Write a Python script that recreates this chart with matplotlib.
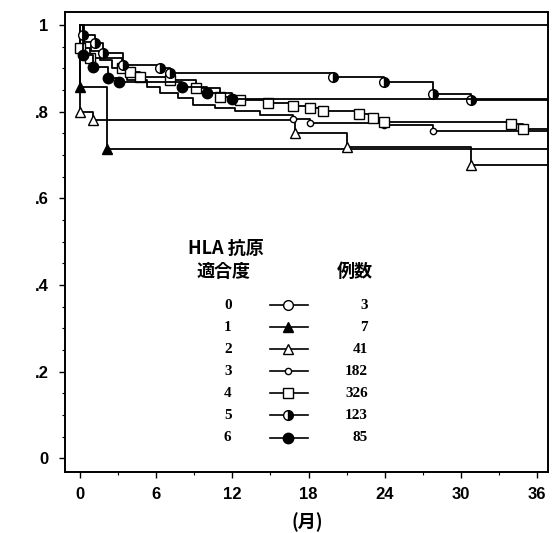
import matplotlib
matplotlib.use("Agg")
import matplotlib.pyplot as plt
from matplotlib.ticker import MultipleLocator

plt.rcParams['font.family'] = ['Noto Sans CJK JP', 'DejaVu Sans']

# HLA 抗原適合度ごとの生存率（月）
grades = ['0', '1', '2', '3', '4', '5', '6']
counts = ['3', '7', '41', '182', '326', '123', '85']

t0 = [0, 37]
s0 = [1.0, 1.0]

t1 = [0, 0, 2.1, 37]
s1 = [1.0, 0.857, 0.714, 0.714]

t2 = [0, 0, 1.0, 16.9, 21.0, 30.8, 37]
s2 = [1.0, 0.80, 0.78, 0.75, 0.718, 0.677, 0.677]

t3 = [0, 0.3, 0.9, 1.6, 2.5, 3.7, 5.3, 6.3, 7.7, 8.9, 10.6, 12.2, 14.2, 16.8, 18.1, 23.9, 27.8, 37]
s3 = [1.0, 0.96, 0.94, 0.92, 0.90, 0.873, 0.857, 0.843, 0.831, 0.815, 0.808, 0.801, 0.792,
      0.783, 0.774, 0.769, 0.755, 0.755]

t4 = [0, 0, 0.8, 3.3, 3.9, 4.7, 7.1, 9.1, 11.0, 12.6, 14.8, 16.8, 18.1, 19.1, 22.0, 23.1, 23.9,
      33.9, 34.9, 37]
s4 = [1.0, 0.947, 0.924, 0.901, 0.891, 0.880, 0.873, 0.855, 0.834, 0.827, 0.820, 0.813, 0.808,
      0.801, 0.794, 0.785, 0.776, 0.771, 0.760, 0.760]

t5 = [0, 0.24, 1.2, 1.8, 3.4, 6.3, 7.1, 19.9, 23.9, 27.8, 30.8, 37]
s5 = [1.0, 0.977, 0.958, 0.935, 0.908, 0.900, 0.889, 0.880, 0.868, 0.840, 0.827, 0.827]

t6 = [0, 0.24, 1.0, 2.2, 3.1, 8.0, 10.0, 12.0, 37]
s6 = [1.0, 0.931, 0.903, 0.878, 0.868, 0.857, 0.843, 0.829, 0.829]

curves = [(t0, s0), (t1, s1), (t2, s2), (t3, s3), (t4, s4), (t5, s5), (t6, s6)]

# マーカーを付ける段（群3は後半のみ）
mark_from = [1, 1, 1, 13, 1, 1, 1]

# 各群のマーカー
styles = [
    dict(marker='o', ms=7, mfc='white'),
    dict(marker='^', ms=7, mfc='black'),
    dict(marker='^', ms=7, mfc='white'),
    dict(marker='o', ms=4.5, mfc='white'),
    dict(marker='s', ms=6.5, mfc='white'),
    dict(marker='o', ms=7, mfc='black', fillstyle='right', markerfacecoloralt='white'),
    dict(marker='o', ms=7.5, mfc='black'),
]

fig = plt.figure(figsize=(5.56, 5.33), dpi=100)
ax = fig.add_axes([0.1169, 0.1144, 0.8687, 0.8631])

for (t, s), st, m0 in zip(curves, styles, mark_from):
    ax.step(t, s, where='post', color='black', lw=1.3)
    if len(t) > 2:
        ax.plot(t[m0:-1], s[m0:-1], linestyle='none', mec='black', mew=1.0, **st)

ax.set_xlim(-1.18, 36.85)
ax.set_ylim(-0.032, 1.03)

ax.set_xticks(range(0, 37, 6))
ax.xaxis.set_minor_locator(MultipleLocator(3))
ax.set_yticks([0, 0.2, 0.4, 0.6, 0.8, 1.0])
ax.set_yticklabels(['0', '.2', '.4', '.6', '.8', '1'])
ax.yaxis.set_minor_locator(MultipleLocator(0.05))

for lab in ax.get_xticklabels() + ax.get_yticklabels():
    lab.set_family('Liberation Sans')
    lab.set_fontweight('bold')
    lab.set_fontsize(12)

ax.tick_params(which='major', direction='out', length=4, width=1, pad=7)
ax.tick_params(which='minor', direction='out', length=2.5, width=0.8)
ax.tick_params(axis='y', which='major', pad=8)
for sp in ax.spines.values():
    sp.set_linewidth(1.4)

fig.text(0.552, 0.021, '(月)', ha='center', va='center', fontsize=13, fontweight='bold')

# 凡例（図中の表）
ax.text(0.333, 0.487, 'HLA 抗原', transform=ax.transAxes, ha='center', va='center',
        fontsize=13, fontweight='bold')
ax.text(0.329, 0.435, '適合度', transform=ax.transAxes, ha='center', va='center',
        fontsize=13, fontweight='bold')
ax.text(0.600, 0.435, '例数', transform=ax.transAxes, ha='center', va='center',
        fontsize=13, fontweight='bold')

row_y0 = 0.363
row_dy = 0.048
for i, (g, n, st) in enumerate(zip(grades, counts, styles)):
    y = row_y0 - i * row_dy
    ax.text(0.337, y, g, transform=ax.transAxes, ha='center', va='center',
            fontsize=11, family='Liberation Serif', fontweight='bold')
    ax.plot([0.424, 0.503], [y, y], transform=ax.transAxes, color='black', lw=1.2)
    ax.plot([0.462], [y], transform=ax.transAxes, linestyle='none', mec='black', mew=1.0, **st)
    ax.text(0.627, y, n, transform=ax.transAxes, ha='right', va='center',
            fontsize=11, family='Liberation Serif', fontweight='bold')

fig.savefig('out.png', dpi=100)
